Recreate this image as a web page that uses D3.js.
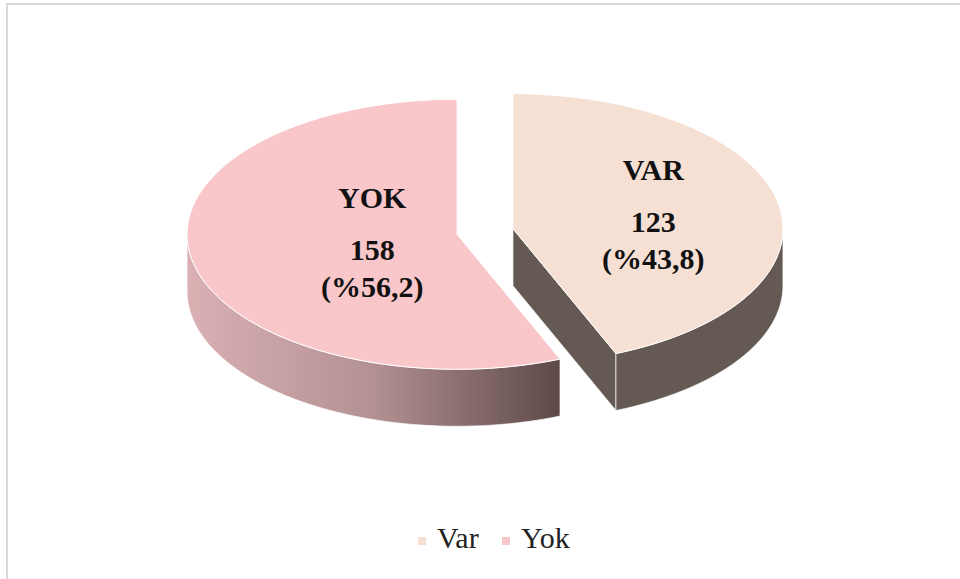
<!DOCTYPE html>
<html>
<head>
<meta charset="utf-8">
<script src="https://cdn.jsdelivr.net/npm/d3@7"></script>
<style>
  html, body { margin: 0; padding: 0; background: #fff; }
  svg { display: block; }
</style>
</head>
<body>
<script>
// data
var categories = ["Var", "Yok"];
var sliceNames = ["VAR", "YOK"];
var values = [123, 158];
var percents = ["%43,8", "%56,2"];
var topColors = ["#f6e0d4", "#f9c7c9"];

var w = 960, h = 579;
var cx = 485, cy = 231.5;      // pie centre
var rx = 270, ry = 135;        // ellipse radii of the top face
var depth = 57;                // thickness
var explode = 28.5;
var labelFrac = [0.53, 0.32];

var svg = d3.select("body").append("svg")
    .attr("width", w)
    .attr("height", h);

// chart border (right & bottom fall outside)
svg.append("rect")
    .attr("x", 7).attr("y", 4)
    .attr("width", 1000).attr("height", 1000)
    .attr("fill", "none")
    .attr("stroke", "#d9d9d9")
    .attr("stroke-width", 2);

var defs = svg.append("defs");
var grad = defs.append("linearGradient")
    .attr("id", "yokSide")
    .attr("gradientUnits", "userSpaceOnUse")
    .attr("x1", cx - explode - rx).attr("x2", cx - explode + rx * 0.38)
    .attr("y1", 0).attr("y2", 0);
grad.append("stop").attr("offset", 0).attr("stop-color", "#dab0b3");
grad.append("stop").attr("offset", 0.5).attr("stop-color", "#b39193");
grad.append("stop").attr("offset", 1).attr("stop-color", "#5e4948");

var sideFills = ["#645a53", "url(#yokSide)"];

var pie = d3.pie().sort(null).startAngle(0).endAngle(2 * Math.PI);
var arcs = pie(values);

function pt(c, a, dz) {
  return [c[0] + rx * Math.sin(a), c[1] - ry * Math.cos(a) + (dz || 0)];
}

function topPath(c, a0, a1) {
  var p = d3.path();
  p.moveTo(c[0], c[1]);
  var n = 80;
  for (var i = 0; i <= n; i++) {
    var q = pt(c, a0 + (a1 - a0) * i / n);
    p.lineTo(q[0], q[1]);
  }
  p.closePath();
  return p.toString();
}

function wallPath(c, a0, a1) {
  var p = d3.path();
  var n = 60, i, q;
  for (i = 0; i <= n; i++) {
    q = pt(c, a0 + (a1 - a0) * i / n);
    if (i === 0) p.moveTo(q[0], q[1]); else p.lineTo(q[0], q[1]);
  }
  for (i = n; i >= 0; i--) {
    q = pt(c, a0 + (a1 - a0) * i / n, depth);
    p.lineTo(q[0], q[1]);
  }
  p.closePath();
  return p.toString();
}

function cutPath(c, a) {
  var q = pt(c, a);
  var p = d3.path();
  p.moveTo(c[0], c[1]);
  p.lineTo(q[0], q[1]);
  p.lineTo(q[0], q[1] + depth);
  p.lineTo(c[0], c[1] + depth);
  p.closePath();
  return p.toString();
}

var slices = svg.selectAll("g.slice")
    .data(arcs)
    .enter()
    .append("g")
    .attr("class", "slice");

slices.each(function(d, i) {
  var g = d3.select(this);
  var mid = (d.startAngle + d.endAngle) / 2;
  var c = [cx + explode * Math.sin(mid), cy - explode * (ry / rx) * Math.cos(mid)];

  // cut face visible when it faces the viewer
  if (d.endAngle < Math.PI) {
    g.append("path").attr("d", cutPath(c, d.endAngle))
      .attr("fill", sideFills[i])
      .attr("stroke", "#fff").attr("stroke-width", 0.7);
  }
  // front outer wall (angles between 90 and 270 degrees)
  var w0 = Math.max(d.startAngle, Math.PI / 2);
  var w1 = Math.min(d.endAngle, Math.PI * 1.5);
  if (w1 > w0) {
    g.append("path").attr("d", wallPath(c, w0, w1))
      .attr("fill", sideFills[i])
      .attr("stroke", "#fff").attr("stroke-width", 0.7);
  }
  g.append("path").attr("d", topPath(c, d.startAngle, d.endAngle))
    .attr("fill", topColors[i])
    .attr("stroke", "#fff").attr("stroke-width", 1);

  // labels
  var lx = c[0] + labelFrac[i] * rx * Math.sin(mid);
  var ly = c[1] - labelFrac[i] * ry * Math.cos(mid);
  var lines = [sliceNames[i], values[i], "(" + percents[i] + ")"];
  var offs = [-35, 17, 54];
  g.selectAll("text")
    .data(lines)
    .enter()
    .append("text")
    .text(function(t) { return t; })
    .attr("x", lx)
    .attr("y", function(t, j) { return ly + offs[j]; })
    .attr("text-anchor", "middle")
    .attr("font-family", "'Liberation Serif', 'Times New Roman', serif")
    .attr("font-weight", "bold")
    .attr("font-size", "30px")
    .attr("fill", "#111");
});

// legend
var legend = svg.selectAll("g.legend")
    .data(categories)
    .enter()
    .append("g")
    .attr("class", "legend")
    .attr("transform", function(d, i) { return "translate(" + (418 + i * 84) + ",537)"; });

legend.append("rect")
    .attr("width", 8).attr("height", 8)
    .attr("fill", function(d, i) { return topColors[i]; });

legend.append("text")
    .text(function(d) { return d; })
    .attr("x", 19)
    .attr("y", 11)
    .attr("font-family", "'Liberation Serif', 'Times New Roman', serif")
    .attr("font-size", "30px")
    .attr("fill", "#222");
</script>
</body>
</html>
